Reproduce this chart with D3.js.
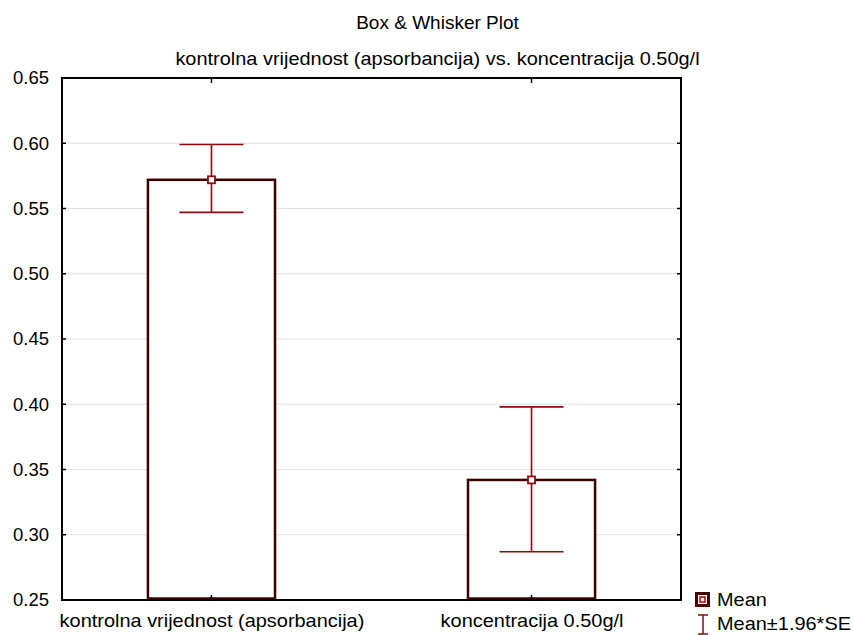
<!DOCTYPE html>
<html><head><meta charset="utf-8">
<script src="https://cdn.jsdelivr.net/npm/d3@7"></script>
<style>body{margin:0;background:#fff}svg{display:block}text{font-family:"Liberation Sans",Arial,sans-serif;fill:#000}</style>
</head><body><svg id="c" width="853" height="635"></svg>
<script>
const categories = ["kontrolna vrijednost (apsorbancija)", "koncentracija 0.50g/l"];
const means = [0.572, 0.342];
const lower = [0.547, 0.287];
const upper = [0.599, 0.398];
const yTicks = [0.25, 0.30, 0.35, 0.40, 0.45, 0.50, 0.55, 0.60, 0.65];
const title1 = "Box & Whisker Plot";
const title2 = "kontrolna vrijednost (apsorbancija) vs. koncentracija 0.50g/l";
const legendLabels = ["Mean", "Mean\u00b11.96*SE"];

const svg = d3.select("#c");
const L = 62, R = 681, T = 78, B = 600;
const x = d3.scalePoint().domain(categories).range([L, R]).padding(0.467);
const y = d3.scaleLinear().domain([0.25, 0.65]).range([B, T]);
const step = x.step();
const barW = step * 0.397;
const capW = 64;
const boxCol = "#3c0000", whiskCol = "#8b0a0a";

svg.append("text").attr("x", 437.5).attr("y", 29).attr("text-anchor", "middle").attr("font-size", 19).text(title1);
svg.append("text").attr("x", 437.5).attr("y", 65).attr("text-anchor", "middle").attr("font-size", 19)
  .attr("transform", "translate(437.5,0) scale(1.05,1) translate(-437.5,0)").text(title2);

// grid
svg.append("g").selectAll("line").data(yTicks.filter(d => d > 0.26 && d < 0.64)).join("line")
  .attr("x1", L).attr("x2", R).attr("y1", d => y(d)).attr("y2", d => y(d))
  .attr("stroke", "#e2e2e2").attr("stroke-width", 1.2);

// y axis labels via axis
const yAxis = d3.axisLeft(y).tickValues(yTicks).tickFormat(d3.format(".2f")).tickSize(0).tickPadding(13);
const ya = svg.append("g").attr("transform", `translate(${L},0)`).call(yAxis);
ya.select(".domain").remove();
ya.selectAll("text").attr("font-size", 18.5).attr("font-family", '"Liberation Sans",Arial,sans-serif').attr("fill", "#000");

// x axis labels
const xAxis = d3.axisBottom(x).tickSize(0).tickPadding(14);
const xa = svg.append("g").attr("transform", `translate(0,${B})`).call(xAxis);
xa.select(".domain").remove();
xa.selectAll("text").attr("font-size", 19).attr("font-family", '"Liberation Sans",Arial,sans-serif').attr("fill", "#000")
  .attr("transform", "scale(1.05,1)");

// bars
svg.append("g").selectAll("rect").data(categories).join("rect")
  .attr("x", d => x(d) - barW / 2).attr("width", barW)
  .attr("y", (d, i) => y(means[i])).attr("height", (d, i) => y(0.25) - 1.5 - y(means[i]))
  .attr("fill", "#fff").attr("stroke", boxCol).attr("stroke-width", 2.5);

// whiskers
const wg = svg.append("g").attr("stroke", whiskCol).attr("stroke-width", 1.6).attr("fill", "none");
categories.forEach((c, i) => {
  const cx = x(c);
  wg.append("line").attr("x1", cx).attr("x2", cx).attr("y1", y(upper[i])).attr("y2", y(lower[i]));
  wg.append("line").attr("x1", cx - capW / 2).attr("x2", cx + capW / 2).attr("y1", y(upper[i])).attr("y2", y(upper[i]));
  wg.append("line").attr("x1", cx - capW / 2).attr("x2", cx + capW / 2).attr("y1", y(lower[i])).attr("y2", y(lower[i]));
  wg.append("rect").attr("x", cx - 3.5).attr("y", y(means[i]) - 3.5).attr("width", 7).attr("height", 7)
    .attr("fill", "#fff").attr("stroke-width", 1.8);
});

// frame
svg.append("rect").attr("x", L).attr("y", T).attr("width", R - L).attr("height", B - T)
  .attr("fill", "none").attr("stroke", "#000").attr("stroke-width", 2);
// inner tick marks
const tg = svg.append("g").attr("stroke", "#000").attr("stroke-width", 1.5);
yTicks.filter(d => d > 0.26 && d < 0.64).forEach(d => {
  tg.append("line").attr("x1", L).attr("x2", L + 4).attr("y1", y(d)).attr("y2", y(d));
  tg.append("line").attr("x1", R - 4).attr("x2", R).attr("y1", y(d)).attr("y2", y(d));
});
categories.forEach(c => {
  tg.append("line").attr("x1", x(c)).attr("x2", x(c)).attr("y1", T).attr("y2", T + 5);
  tg.append("line").attr("x1", x(c)).attr("x2", x(c)).attr("y1", B - 5).attr("y2", B);
});

// legend
const lg = svg.append("g");
lg.append("rect").attr("x", 696.5).attr("y", 593.5).attr("width", 12).attr("height", 12)
  .attr("fill", "#fff").attr("stroke", "#4a0000").attr("stroke-width", 3);
lg.append("rect").attr("x", 700).attr("y", 597).attr("width", 5).attr("height", 5)
  .attr("fill", "#fff").attr("stroke", "#b00000").attr("stroke-width", 1.5);
lg.append("text").attr("x", 717).attr("y", 606).attr("font-size", 19)
  .attr("transform", "translate(717,0) scale(1.05,1) translate(-717,0)").text(legendLabels[0]);
const li = lg.append("g").attr("stroke", whiskCol).attr("stroke-width", 1.5);
li.append("line").attr("x1", 703).attr("x2", 703).attr("y1", 615).attr("y2", 634);
li.append("line").attr("x1", 698).attr("x2", 708).attr("y1", 615).attr("y2", 615);
li.append("line").attr("x1", 698).attr("x2", 708).attr("y1", 634).attr("y2", 634);
lg.append("text").attr("x", 717).attr("y", 630).attr("font-size", 19)
  .attr("transform", "translate(717,0) scale(1.05,1) translate(-717,0)").text(legendLabels[1]);
</script></body></html>
